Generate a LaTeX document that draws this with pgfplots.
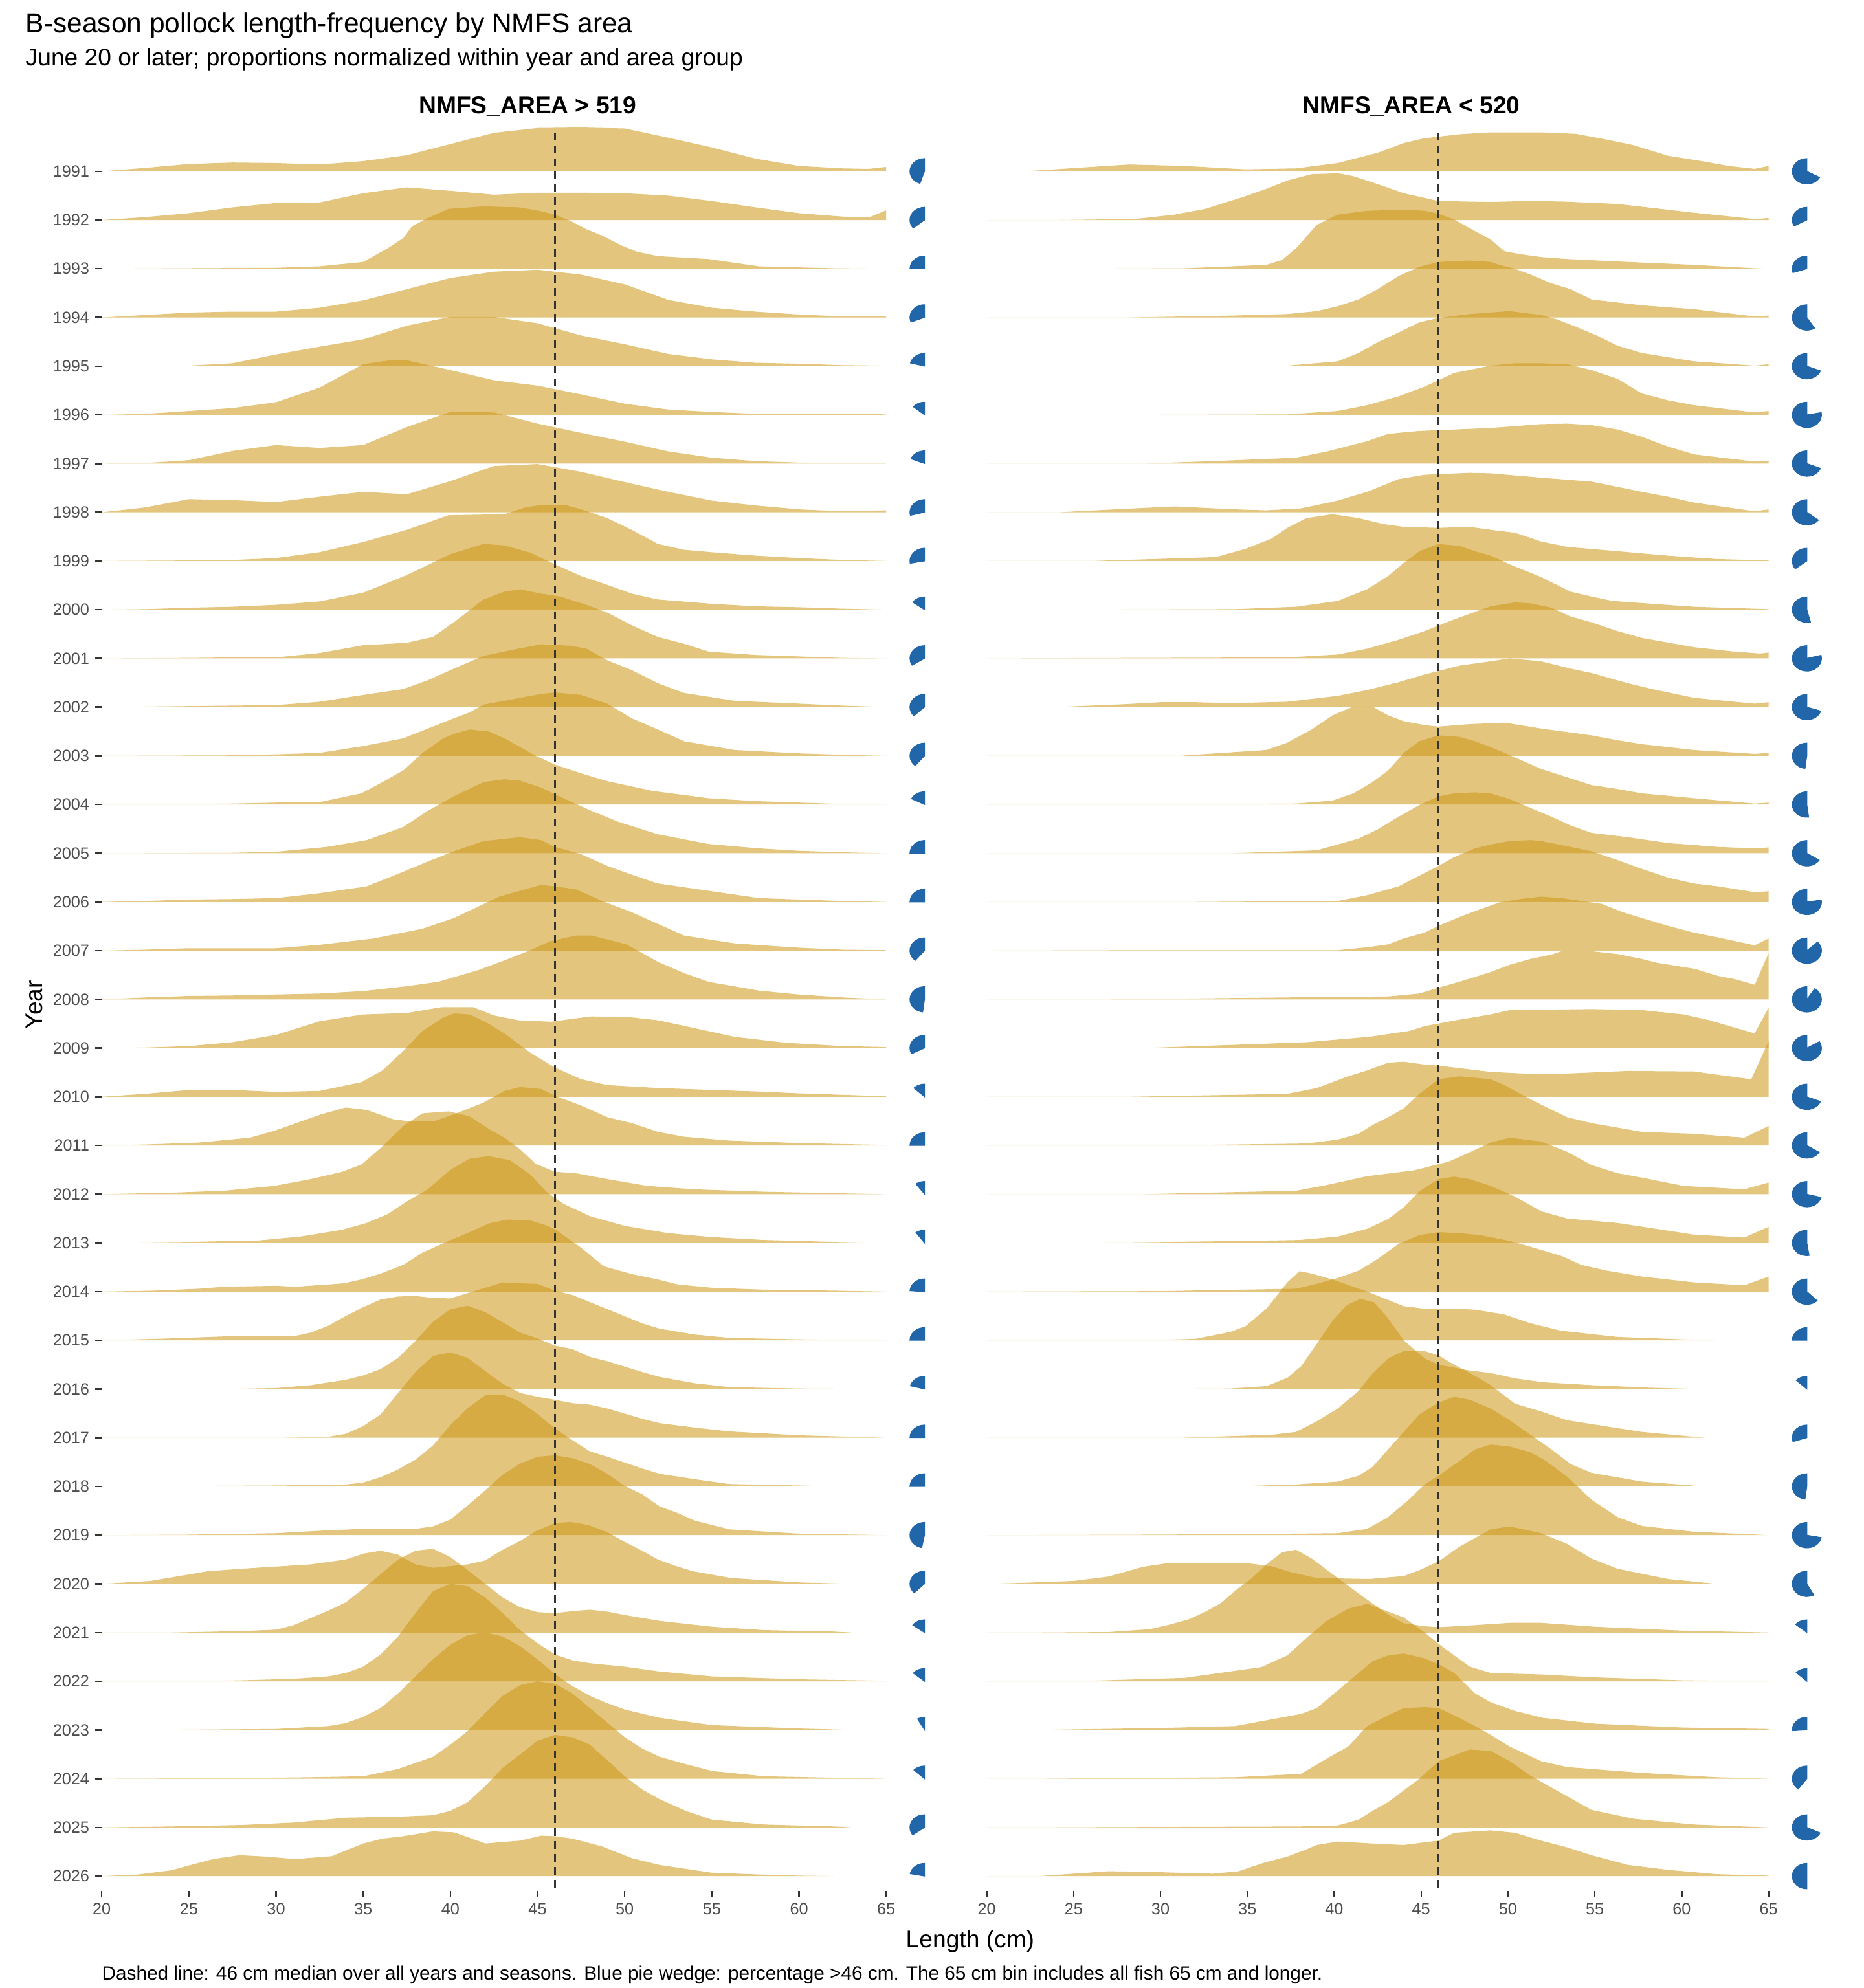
\documentclass[border=0pt]{standalone}
\usepackage{fontspec}
\setmainfont{Liberation Sans}
\usepackage{pgfplots}
\usepackage{pgfplotstable}
\pgfplotsset{compat=1.18}
\definecolor{ridgecol}{RGB}{205,150,20}
\definecolor{pieblue}{RGB}{34,102,170}
\definecolor{tickgrey}{RGB}{77,77,77}
\definecolor{tickdark}{RGB}{51,51,51}

\pgfplotstableread{
yr pL pR
1991 45 67
1992 36 33
1993 25 30
1994 31 59
1995 21 69
1996 14 78
1997 19 69
1998 29 64.5
1999 28 35.5
2000 15 54
2001 34 79
2002 37 70
2003 39 48
2004 17.5 52
2005 25 66
2006 25 77.5
2007 39 87
2008 48 91
2009 32.5 83.5
2010 13 69
2011 25 66
2012 10 71
2013 10 52.5
2014 24 62.5
2015 25 25
2016 21 13
2017 25 30
2018 25 48
2019 47 72
2020 37.5 58
2021 15 14
2022 14 13
2023 8 26
2024 13 40
2025 35 68
2026 22 50
}\pietab

\newcommand{\ridge}[2]{\addplot[ridgefill] table[row sep=\\, x index=0, y expr={\thisrowno{1}/100-#1}] {#2} -- cycle;}

\pgfplotsset{
  ridgefill/.style={draw=none, fill=ridgecol, fill opacity=0.55, forget plot},
  panel/.style={
    scale only axis, height=1024.6bp,
    xmin=20, xmax=68.87, ymin=-2026.3, ymax=-1990,
    axis line style={draw=none},
    xtick={20,25,...,65},
    tick style={draw=tickdark, line width=0.9bp},
    tick align=outside, major tick length=3.7bp,
    xtick pos=bottom, ytick pos=left,
    ticklabel style={font=\fontsize{9.5}{11}\selectfont, text=tickgrey},
    clip=false,
    /pgf/number format/assume math mode=true,
    /pgf/number format/1000 sep={},
  },
  piemark/.style={
    scatter, only marks, mark=*, mark size=0pt, mark options={draw=none, fill=none}, forget plot,
    scatter/@pre marker code/.code={%
      \pgfmathsetmacro\pieend{90+3.6*\pct}%
      \fill[pieblue] (0pt,0pt) -- (0pt,7.4bp) arc[start angle=90, end angle=\pieend, x radius=8.5bp, y radius=7.4bp] -- cycle;},
    scatter/@post marker code/.code={},
  },
  medianline/.style={draw=tickdark, line width=0.9bp, dash pattern=on 4.5bp off 3bp, forget plot},
}

\begin{document}
\begin{tikzpicture}
\useasboundingbox (0,0) rectangle (1080bp,1152bp);

% ---------------- Left panel: NMFS_AREA > 519 ----------------
\begin{axis}[panel, width=493.6bp, at={(58.94bp,56.36bp)}, anchor=south west,
  ytick={-2026,-2025,...,-1991},
  yticklabels={2026,2025,2024,2023,2022,2021,2020,2019,2018,2017,2016,2015,2014,2013,2012,2011,2010,2009,2008,2007,2006,2005,2004,2003,2002,2001,2000,1999,1998,1997,1996,1995,1994,1993,1992,1991}]
\ridge{1991}{20 0\\22.5 7\\25 15\\27.5 18\\30 17\\32.5 14\\35 21\\37.5 33\\40 56\\42.5 79\\45 89\\47.5 90\\50 88\\52.5 69\\55 49\\57.5 26\\60 11\\62.5 6\\64 5\\65 9\\65 0\\}
\ridge{1992}{20 0\\22.5 6\\25 14\\27.5 26\\30 35\\32.5 36\\35 55\\37.5 67\\40 60\\42.5 52\\45 56\\47.5 56\\50 55\\52.5 50\\55 39\\57.5 26\\60 14\\62.5 7\\64 5\\65 20\\65 0\\}
\ridge{1993}{20 0\\30 2\\32.5 5\\35 14\\36.4 42\\37.3 63\\37.8 87\\38.7 104\\39.9 123\\41.9 128\\44 126\\45.2 118\\46 111\\46.9 98\\47.8 81\\48.7 68\\49.8 48\\50.7 35\\51.9 26\\54.8 20\\57.7 5\\62 1\\65 0\\}
\ridge{1994}{20 0\\22.5 5\\25 10\\27.5 12\\30 12\\32.5 20\\35 35\\37.5 58\\40 81\\42.5 94\\45 98\\47.5 88\\50 68\\52.5 36\\55 20\\57.5 12\\60 6\\62.5 2\\65 2\\65 0\\}
\ridge{1995}{20 0\\22.5 1\\25 1\\27.5 6\\30 24\\32.5 40\\35 55\\37.5 83\\40 101\\42.5 101\\45 88\\47.5 63\\50 45\\52.5 25\\55 14\\57.5 7\\60 5\\62.5 2\\65 1\\65 0\\}
\ridge{1996}{20 0\\22.5 2\\25 8\\27.5 14\\30 26\\32.5 56\\35 104\\36.7 113\\37.5 112\\40 92\\42.5 71\\45 60\\47.5 42\\50 23\\52.5 11\\55 6\\57.5 2\\62.5 2\\65 1\\65 0\\}
\ridge{1997}{20 0\\22.5 1\\25 7\\27.5 26\\30 38\\32.5 32\\35 38\\37.5 75\\40 106\\42.5 105\\45 82\\47.5 63\\50 45\\52.5 25\\55 12\\57.5 5\\60 2\\62.5 1\\65 1\\65 0\\}
\ridge{1998}{20 0\\22.5 10\\25 27\\27.5 25\\30 21\\32.5 32\\35 42\\37.5 37\\40 64\\42.5 95\\45 99\\47.5 83\\50 62\\52.5 42\\55 24\\57.5 14\\60 6\\62.5 2\\65 4\\65 0\\}
\ridge{1999}{20 0\\25 1\\27.5 2\\30 6\\32.5 18\\35 39\\37.5 64\\39.9 94\\43.1 96\\44.3 110\\45.2 115\\46.6 115\\47.5 106\\49 88\\50.4 64\\51.9 35\\53.4 23\\55 18\\57.5 11\\60 6\\62.5 2\\65 0\\}
\ridge{2000}{20 0\\22.5 1\\25 4\\27.5 6\\30 10\\32.5 17\\35 35\\37.5 71\\40 114\\41.9 135\\43.1 132\\44.6 117\\46 93\\47.5 69\\49 51\\50.4 33\\51.9 21\\55 12\\57.5 7\\60 5\\62.5 2\\65 0\\}
\ridge{2001}{20 0\\25 1\\27.5 2\\30 2\\32.5 11\\35 27\\37.5 32\\39 44\\40.2 74\\41.9 121\\43.1 137\\44 142\\45.2 133\\46.3 127\\47.8 110\\49 94\\50.4 68\\51.9 44\\53.4 30\\54.8 14\\57.5 7\\60 4\\62.5 1\\65 0\\}
\ridge{2002}{20 0\\22.5 1\\25 2\\27.5 3\\30 4\\32.5 11\\35 25\\37.3 37\\38.7 55\\40.2 79\\41.9 105\\43.9 120\\45.2 129\\46.9 126\\47.8 120\\49 96\\50.4 76\\51.9 49\\53.4 29\\56.3 13\\60 7\\62.5 3\\65 0\\}
\ridge{2003}{20 0\\27.5 1\\30 3\\32.5 6\\35 20\\37.3 36\\39 60\\40.2 77\\41.1 89\\41.9 105\\44 119\\45.2 127\\46 130\\47.5 125\\49 107\\50.4 77\\51.9 54\\53.4 30\\56.3 12\\60 5\\62.5 2\\65 0\\}
\ridge{2004}{20 0\\25 1\\27.5 2\\30 4\\32.5 5\\34.9 23\\36.1 46\\37.3 70\\38.4 106\\39.6 136\\40.2 145\\41.1 154\\42.2 150\\43.1 136\\44 118\\44.9 100\\46 82\\47.5 64\\49 48\\51.6 28\\54.8 13\\57.5 7\\60 4\\62.5 1\\65 0\\}
\ridge{2005}{20 0\\27.5 1\\30 3\\32.9 13\\35.2 27\\37.3 54\\38.7 87\\40.2 117\\41.9 146\\43.1 152\\44 149\\45.2 135\\46.6 111\\48.1 87\\49.6 65\\51.9 39\\54.8 19\\57.7 10\\60 5\\62.5 2\\65 0\\}
\ridge{2006}{20 0\\22.5 2\\25 5\\27.5 6\\30 8\\32.5 18\\35.2 32\\37.3 62\\38.7 83\\40.2 104\\41.9 125\\44 133\\45.2 127\\46 113\\47.5 98\\49 74\\50.4 56\\51.9 38\\54.8 23\\57.7 8\\60 5\\62.5 2\\65 0\\}
\ridge{2007}{20 0\\22.5 2\\25 5\\27.5 5\\30 5\\32.5 12\\35.6 25\\38.4 45\\40.2 67\\41.4 87\\42.8 111\\44 123\\45.2 135\\46 132\\47.2 126\\48.7 102\\50.4 79\\51.9 55\\53.4 31\\56.3 15\\60 6\\62.5 2\\65 1\\65 0\\}
\ridge{2008}{20 0\\22.5 4\\25 7\\27.5 8\\30 10\\32.5 12\\35 17\\37.5 27\\39.3 36\\41.6 60\\43.1 80\\44.6 101\\45.7 119\\47.2 131\\48.1 131\\50.1 113\\51.9 77\\53.4 54\\54.8 36\\57.7 18\\60 10\\62.5 4\\65 0\\}
\ridge{2009}{20 0\\22.5 1\\25 4\\27.5 12\\30 27\\32.5 55\\35 69\\37.5 72\\39.5 84\\41.3 84\\42.5 67\\43.9 57\\45.8 54\\47.2 61\\48.1 65\\50.4 63\\51.9 57\\53.1 48\\56.3 23\\59.2 11\\62.5 4\\65 2\\65 0\\}
\ridge{2010}{20 0\\22.5 6\\25 14\\27.5 14\\30 10\\32.5 12\\34.9 30\\36.1 54\\37.3 94\\38.4 135\\39.6 163\\40.2 171\\41.1 169\\42.2 150\\43.1 130\\44.6 90\\46 60\\47.5 36\\49 24\\51.9 18\\55 14\\57.5 11\\60 7\\62.5 4\\65 1\\65 0\\}
\ridge{2011}{20 0\\22.5 2\\25.6 6\\28.5 16\\29.9 30\\31.4 49\\32.6 64\\34 78\\35.2 73\\36.7 54\\37.8 49\\39 49\\40.2 64\\41.9 88\\43.1 112\\44 120\\45.2 116\\46 102\\47.5 82\\49 58\\50.4 46\\51.9 28\\53.4 18\\56 10\\60 5\\65 1\\65 0\\}
\ridge{2012}{20 0\\24 3\\27 7\\29.9 17\\32 31\\33.8 46\\34.9 61\\36.1 98\\37.3 140\\38.4 166\\39.9 170\\41.1 160\\42.2 134\\43.1 116\\44 92\\44.9 62\\46 46\\47.2 43\\49 31\\51.3 17\\54 10\\58 5\\62 2\\65 0\\}
\ridge{2013}{20 0\\25 2\\29 5\\31.4 13\\33.8 27\\35.2 41\\36.4 59\\37.5 85\\38.7 110\\40 150\\41.1 173\\42.2 178\\43.4 170\\44.6 140\\45.5 105\\46.5 80\\48 55\\50 35\\52.5 20\\55 12\\58 6\\62 2\\65 0\\}
\ridge{2014}{20 0\\23 2\\25.6 6\\27 10\\30 12\\31.1 10\\33.9 17\\35 26\\36 37\\37.3 55\\38.4 80\\39.9 104\\41.1 122\\42.2 140\\43.3 148\\44.6 146\\45.5 136\\46 128\\47.5 90\\48.8 52\\50.4 36\\51.9 25\\53 15\\55 8\\58 4\\62 2\\65 0\\}
\ridge{2015}{20 0\\24 4\\27 8\\31.1 9\\32 16\\33 30\\34 50\\35 68\\36 84\\37 90\\38 91\\39 87\\40 86\\41 97\\42 108\\43 119\\44 117\\45 116\\46 102\\47 93\\49 64\\51 35\\52 24\\54 12\\56 5\\60 2\\65 0\\}
\ridge{2016}{20 0\\27 0\\30 2\\32 8\\34 19\\35 28\\36 41\\37 64\\38 99\\39 138\\40 164\\41 171\\42 158\\43 137\\44 116\\45 104\\46 89\\47 82\\48 66\\49 57\\51 35\\52 25\\54 12\\56 4\\60 1\\65 0\\}
\ridge{2017}{20 0\\30 0\\32 1\\33 2\\34 8\\35 24\\36 48\\37 92\\38 135\\39 168\\40 175\\41 164\\42 137\\43 111\\44 92\\45 84\\46 78\\47 71\\48 68\\49 60\\51 39\\52 30\\54 21\\56 13\\60 5\\63 2\\65 0\\}
\ridge{2018}{20 0\\25 1\\30 2\\34 4\\35 8\\36 19\\37 35\\38 55\\39 84\\40 126\\41 161\\42 187\\43 189\\44 174\\45 149\\46 119\\47 95\\48 72\\49 61\\51 37\\52 26\\54 15\\56 5\\60 2\\62 0\\}
\ridge{2019}{20 0\\25 1\\30 4\\33 10\\35 13\\37 12\\38 13\\39 18\\40 32\\41 61\\42 92\\43 124\\44 147\\45 161\\46 164\\47 158\\48 146\\49 126\\50 101\\51 84\\52 59\\53 46\\54 30\\56 12\\60 3\\65 0\\}
\ridge{2020}{20 0\\22.8 6\\26.1 26\\28 31\\32 40\\34 50\\35 62\\36 68\\37 60\\38 40\\39 33\\41 40\\42 48\\42.9 68\\44 88\\44.9 108\\46 125\\46.9 127\\47.9 121\\49 106\\50 86\\51 68\\51.9 50\\52.9 37\\53.9 26\\56.1 12\\60 3\\63 0\\}
\ridge{2021}{20 0\\24 0\\28 3\\30 6\\31 15\\32 30\\33 45\\34 62\\35 90\\36 120\\37 150\\38 168\\39 172\\40 155\\41 128\\42 100\\43 72\\44 52\\45 42\\46 40\\47 44\\48 47\\49 43\\50 36\\52 24\\55 12\\58 5\\62 2\\63 0\\}
\ridge{2022}{20 0\\25 0\\28 2\\31 5\\33 10\\34 17\\35 30\\36 55\\37 92\\38 140\\39 185\\40 200\\41 195\\42 172\\43 140\\44 105\\45 78\\46 55\\47 43\\48 37\\50 30\\52 20\\55 10\\60 4\\65 1\\65 0\\}
\ridge{2023}{20 0\\23 0\\30 2\\33 8\\34 14\\35 27\\36 45\\37 75\\38 110\\39 145\\40 175\\41 195\\42 200\\43 192\\44 172\\45 145\\46 115\\47 90\\48 70\\49 55\\50 42\\52 25\\55 10\\60 3\\63 0\\}
\ridge{2024}{20 0\\27 1\\32 3\\35 5\\37 20\\39 45\\40 70\\41 98\\42 135\\43 170\\44 192\\45 200\\46 195\\47 175\\48 145\\49 115\\50 85\\51 62\\52 45\\53.5 30\\55 16\\58 5\\62 2\\65 0\\}
\ridge{2025}{20 0\\24 2\\28 5\\31 10\\34 20\\37 22\\39 25\\40 34\\41 52\\42 85\\43 122\\44 150\\45 178\\46 190\\47 185\\48 170\\49 138\\50 105\\51 78\\52 58\\53.5 34\\55 16\\58 6\\62 2\\63 0\\}
\ridge{2026}{20 0\\22 3\\24 12\\25 22\\26.4 35\\27.9 43\\29.5 40\\31.1 35\\33.2 41\\35 67\\36.1 77\\37.3 82\\39 92\\40.2 90\\41 80\\42 67\\43 70\\44 73\\45.2 83\\46 82\\47 77\\48.7 61\\50.4 37\\52 23\\55 7\\58 3\\60 1\\62 0\\}
\addplot[medianline] coordinates {(46,-1990.2) (46,-2026.3)};
\addplot[piemark, visualization depends on={\thisrow{pL} \as \pct}] table[x expr=67.2, y expr=-\thisrow{yr}] {\pietab};
\end{axis}

% ---------------- Right panel: NMFS_AREA < 520 ----------------
\begin{axis}[panel, width=492.0bp, at={(571.7bp,56.36bp)}, anchor=south west, ytick=\empty]
\ridge{1991}{20 0\\22.6 1\\25.6 8\\28.2 14\\31.4 11\\34.9 4\\37.8 6\\40.2 17\\42.5 38\\44 58\\45.2 68\\47.2 76\\49 80\\51.9 80\\53.9 77\\55.7 65\\57.2 54\\59.2 32\\61.3 20\\62.7 11\\64.2 5\\65 11\\65 0\\}
\ridge{1992}{20 0\\24.1 0\\28.5 2\\30.8 11\\32.6 23\\34.9 49\\36.1 64\\37.3 81\\38.7 94\\40.2 96\\41.1 90\\42.8 70\\44 55\\46 39\\49 37\\51 39\\53.1 38\\56.3 33\\60.7 15\\64.2 2\\65 4\\65 0\\}
\ridge{1993}{20 0\\25 0\\31.4 1\\36.1 8\\37 18\\37.8 42\\39 90\\40.2 111\\41.9 119\\44 121\\45.2 119\\46 113\\46.9 101\\47.8 83\\49 60\\49.8 36\\50.7 30\\51.9 24\\53.4 20\\56.3 15\\60.7 8\\64.2 1\\65 0\\}
\ridge{1994}{20 0\\28.2 0\\34.3 4\\37.3 7\\39 13\\40.2 23\\41.4 37\\42.5 58\\43.7 85\\44.9 104\\46 114\\47.8 117\\49 114\\49.5 108\\50.4 100\\51.3 88\\52.5 70\\53.6 58\\54.8 37\\57.7 25\\60.7 17\\64.2 2\\65 4\\65 0\\}
\ridge{1995}{20 0\\27 0\\37.3 1\\40.2 10\\41.4 27\\42.5 49\\43.7 69\\44.9 90\\46 99\\47.8 107\\50.1 113\\51.9 105\\52.8 96\\53.9 81\\55.1 63\\56.3 42\\57.7 27\\60.7 10\\64.2 1\\65 4\\65 0\\}
\ridge{1996}{20 0\\29.1 0\\37.3 1\\40.2 8\\41.9 20\\43.7 38\\45.2 58\\46.9 86\\49 101\\50.4 106\\51.9 106\\53.4 104\\54.8 92\\56.3 74\\57.7 44\\59.2 30\\60.7 20\\64.2 5\\65 8\\65 0\\}
\ridge{1997}{20 0\\29.1 0\\33 5\\37.8 12\\39.6 25\\41.9 46\\43.1 61\\44.9 67\\49 73\\51.9 81\\53.4 82\\54.8 79\\56.3 70\\57.7 55\\59.2 35\\60.7 19\\64.2 4\\65 6\\65 0\\}
\ridge{1998}{20 0\\24.1 0\\28.5 8\\30.8 12\\34.3 6\\36.1 4\\38.1 8\\40.2 24\\41.9 42\\43.7 68\\45.2 77\\47.8 81\\49 80\\51.9 71\\54.8 63\\57.7 42\\59.2 32\\60.7 20\\64.2 2\\65 6\\65 0\\}
\ridge{1999}{20 0\\26.1 0\\33.2 8\\34.9 25\\36.4 46\\37.3 68\\38.4 88\\39.9 96\\41.4 88\\42.8 76\\44 70\\46 68\\47.8 70\\49 64\\50.4 58\\51.9 40\\53.4 29\\56.3 20\\59.2 11\\62 4\\65 1\\65 0\\}
\ridge{2000}{20 0\\26.1 0\\34.3 1\\37.8 6\\40.2 18\\41.9 42\\43.1 69\\44 96\\44.9 120\\46 135\\47.2 131\\48.1 120\\49 111\\50.1 93\\51.9 67\\53.6 37\\54.8 27\\56 18\\60.7 6\\65 1\\65 0\\}
\ridge{2001}{20 0\\37.3 2\\40.2 8\\41.9 20\\43.7 38\\45.2 56\\46.9 80\\49 107\\50.4 115\\51.3 113\\52.5 104\\53.6 86\\54.8 74\\56.3 56\\57.7 42\\60.7 23\\63 14\\64.5 10\\65 12\\65 0\\}
\ridge{2002}{20 0\\24 0\\28 6\\30 10\\32 10\\34 8\\37.3 11\\40.2 23\\41.9 35\\43.7 51\\45.2 67\\47.2 85\\49 94\\50.1 100\\51.9 94\\53.6 79\\54.8 70\\56.9 49\\58.3 37\\60.7 19\\64.2 7\\65 10\\65 0\\}
\ridge{2003}{20 0\\31.1 0\\36.1 12\\37.3 27\\38.7 54\\39.9 83\\41.1 101\\42.2 101\\43.1 83\\44 71\\45.2 63\\46 60\\47.8 65\\49.8 68\\50.7 63\\51.9 56\\54.8 42\\56.3 32\\57.7 24\\60.7 12\\64.2 4\\65 6\\65 0\\}
\ridge{2004}{20 0\\29 0\\37.8 2\\39.9 8\\41.1 23\\42.2 46\\43.1 70\\44 106\\44.9 130\\46 142\\47.2 139\\48.1 130\\49 118\\49.8 106\\50.7 92\\51.9 73\\53.4 56\\54.8 40\\56.3 32\\57.7 23\\60.7 13\\64.2 2\\65 4\\65 0\\}
\ridge{2005}{20 0\\34 0\\39 6\\41.4 30\\42.5 49\\43.7 75\\44.9 99\\46 117\\46.9 123\\48.1 125\\49 123\\50.1 111\\51.3 93\\52.5 75\\53.6 57\\54.8 42\\56.9 33\\59.2 21\\62.1 13\\64.2 10\\65 12\\65 0\\}
\ridge{2006}{20 0\\32 0\\40.2 2\\41.9 14\\43.7 32\\44.9 54\\46 74\\46.9 92\\48.1 110\\49 118\\50.1 125\\51.3 127\\51.9 125\\53.6 113\\54.8 104\\56.3 86\\57.7 68\\59.2 50\\60.7 38\\62.1 32\\64.2 20\\65 22\\65 0\\}
\ridge{2007}{20 0\\30 1\\40.2 1\\41.9 7\\43.1 13\\44 25\\45.2 37\\46 51\\47.2 69\\48.4 85\\49.5 99\\50.7 106\\51.9 111\\53.1 108\\54.2 102\\55.4 96\\56.6 79\\57.7 67\\59.2 51\\60.7 37\\62.1 27\\64.2 11\\65 25\\65 0\\}
\ridge{2008}{20 0\\27 0\\37.3 4\\43.1 6\\44.9 12\\46 24\\47.2 36\\49 56\\50.1 71\\51.3 83\\52.5 92\\53.1 99\\54.8 99\\56.3 93\\57.7 83\\58.6 75\\60.7 63\\62.1 48\\63 42\\64.2 30\\65 95\\65 0\\}
\ridge{2009}{20 0\\29.1 0\\38.4 12\\42 23\\44.3 35\\45.2 45\\47 57\\49 69\\50.1 78\\54.8 80\\57.7 78\\60.1 69\\61.6 57\\64.2 30\\65 83\\65 0\\}
\ridge{2010}{20 0\\28.2 0\\37.3 6\\39 18\\40.8 42\\41.9 54\\43.1 70\\44 72\\45.2 66\\46 64\\49 51\\51.9 46\\53.6 48\\56.9 53\\60.7 52\\61.5 48\\64 36\\65 114\\65 0\\}
\ridge{2011}{20 0\\30 0\\38.4 4\\40.2 12\\41.4 24\\42.2 42\\43.1 58\\44 76\\44.9 106\\46 136\\47.2 142\\49 136\\49.8 124\\50.7 106\\51.9 84\\53.4 58\\54.8 46\\57.7 28\\60.7 24\\63.6 16\\65 40\\65 0\\}
\ridge{2012}{20 0\\29 0\\37.8 7\\39.6 19\\41.9 37\\44.6 49\\46.6 67\\47.8 86\\49 106\\50.1 116\\51.9 108\\53.4 87\\54.8 60\\56.3 43\\57.7 34\\60.1 17\\63.6 10\\65 24\\65 0\\}
\ridge{2013}{20 0\\28 1\\35 4\\38 6\\40.2 13\\41.9 29\\43.1 49\\44 73\\44.9 106\\46 131\\46.9 136\\47.8 131\\49 117\\50.4 95\\51.9 65\\53.4 50\\56.3 41\\60.7 17\\63.6 11\\65 33\\65 0\\}
\ridge{2014}{20 0\\30 1\\37.8 6\\39 16\\40.2 28\\41.4 43\\42.5 67\\43.7 98\\44.9 116\\46 122\\47.2 120\\48.4 116\\50.1 104\\51.3 92\\53.1 73\\54.2 55\\55.7 43\\57.7 31\\60.7 19\\63.6 13\\65 31\\65 0\\}
\ridge{2015}{20 0\\29 0\\32 3\\34 17\\34.9 29\\36.1 65\\37.3 119\\38 142\\38.7 137\\39.9 125\\41.1 110\\41.9 100\\43.1 83\\44 70\\45.2 65\\46.9 65\\48.1 63\\49.8 53\\51.3 35\\53 20\\56.3 7\\60 2\\62 0\\}
\ridge{2016}{20 0\\29 0\\34 1\\36.1 6\\37.3 23\\38.1 47\\39 93\\39.9 140\\40.7 172\\41.5 185\\42.3 178\\43.1 145\\44 100\\45.2 63\\46 50\\47.8 38\\49 33\\50.4 22\\52 14\\54.8 8\\58 3\\61 0\\}
\ridge{2017}{20 0\\31.1 0\\36.4 6\\37.8 12\\39 34\\40.2 60\\41.4 96\\42.2 132\\43.1 163\\44 178\\45.2 178\\46 169\\46.9 150\\47.8 133\\49 108\\50.4 70\\51.9 54\\53.4 36\\57.7 12\\61.3 0\\}
\ridge{2018}{20 0\\34 0\\37.8 4\\40.2 10\\41.4 22\\42.2 40\\43.1 76\\44 112\\44.9 148\\46 172\\46.9 184\\47.8 178\\49 160\\50.1 136\\51.3 106\\52.5 76\\53.6 46\\54.8 28\\57.7 10\\61.3 0\\}
\ridge{2019}{20 0\\29 1\\35 2\\40.2 4\\41.9 13\\43.1 37\\44.3 73\\45.2 104\\46 122\\47.2 152\\48.1 176\\49 186\\50.1 182\\51.3 170\\52.2 152\\53.4 120\\54.8 73\\56.3 37\\57.7 19\\60.7 7\\65 0\\}
\ridge{2020}{20 0\\22 2\\25 6\\27 15\\29 35\\30.5 43\\33.2 43\\34.9 43\\36.4 36\\37.5 24\\39 12\\42 10\\44 16\\44.9 28\\46 46\\47.2 76\\49 112\\50.1 118\\51.9 104\\53.4 82\\54.8 52\\56.3 31\\59.2 10\\62 0\\}
\ridge{2021}{20 0\\23 0\\27 1\\29.4 7\\30.5 16\\31.7 28\\32.6 43\\33.5 61\\34.3 86\\35.2 110\\36.1 140\\37 165\\37.8 170\\38.7 152\\39.6 128\\40.2 112\\41.6 75\\43.1 37\\44 19\\45.2 13\\46 11\\48 15\\50.1 20\\51.9 20\\55 12\\60 4\\65 0\\}
\ridge{2022}{20 0\\25 0\\31.4 7\\35.8 29\\37.3 53\\38.4 89\\39.6 125\\40.8 149\\41.9 159\\43.1 143\\44 131\\45.2 100\\46 77\\46.9 53\\47.8 30\\49 17\\51.9 14\\55 8\\60 2\\65 0\\}
\ridge{2023}{20 0\\23 0\\30 4\\34.3 8\\38.1 33\\39 45\\40.2 81\\41.4 117\\42.2 141\\43.1 153\\44 157\\45.2 147\\46 135\\46.9 117\\48.1 75\\49 57\\50.4 39\\52 25\\55 13\\60 5\\65 2\\65 0\\}
\ridge{2024}{20 0\\23 0\\34.3 3\\38.1 10\\39.6 42\\40.8 66\\41.9 108\\43.1 130\\44 145\\45.2 147\\46 145\\46.9 130\\48.1 108\\49 90\\50.1 66\\51.9 36\\53.4 24\\57.7 12\\62 3\\65 0\\}
\ridge{2025}{20 0\\23 0\\30 1\\38 2\\40.2 4\\41.4 16\\42.2 34\\43.1 52\\44 76\\44.9 100\\46 136\\46.9 148\\47.8 160\\49 157\\50.1 136\\51.3 106\\52.8 76\\54.8 36\\57.2 18\\60.7 6\\65 0\\}
\ridge{2026}{20 0\\23 0\\25 5\\27 10\\29 9\\31 7\\33 5\\34.5 10\\36 28\\37.3 40\\38.4 55\\39 64\\40.2 71\\42.2 67\\44 64\\46 73\\46.9 89\\49 94\\50.4 89\\51.9 73\\53.4 59\\54.8 43\\56.9 23\\59.2 13\\62 4\\65 1\\65 0\\}
\addplot[medianline] coordinates {(46,-1990.2) (46,-2026.3)};
\addplot[piemark, visualization depends on={\thisrow{pR} \as \pct}] table[x expr=67.2, y expr=-\thisrow{yr}] {\pietab};
\end{axis}

% ---------------- Titles and labels ----------------
\node[anchor=base west, inner sep=0pt, font=\fontsize{16}{19}\selectfont] at (14.7bp,1133bp) {B-season pollock length-frequency by NMFS area};
\node[anchor=base west, inner sep=0pt, font=\fontsize{14}{17}\selectfont] at (14.7bp,1113.9bp) {June 20 or later; proportions normalized within year and area group};
\node[anchor=base, inner sep=0pt, font=\fontsize{14}{17}\selectfont\bfseries] at (305.7bp,1086.3bp) {NMFS\_AREA > 519};
\node[anchor=base, inner sep=0pt, font=\fontsize{14}{17}\selectfont\bfseries] at (817.7bp,1086.3bp) {NMFS\_AREA < 520};
\node[anchor=center, inner sep=0pt, rotate=90, font=\fontsize{14}{17}\selectfont] at (19.9bp,569.7bp) {Year};
\node[anchor=base, inner sep=0pt, font=\fontsize{14}{17}\selectfont] at (562.1bp,23.6bp) {Length (cm)};
\node[anchor=base west, inner sep=0pt, font=\fontsize{11.2}{13}\selectfont] at (58.9bp,4.6bp) {Dashed line: 46 cm median over all years and seasons. Blue pie wedge: percentage >46 cm. The 65 cm bin includes all fish 65 cm and longer.};
\end{tikzpicture}
\end{document}
